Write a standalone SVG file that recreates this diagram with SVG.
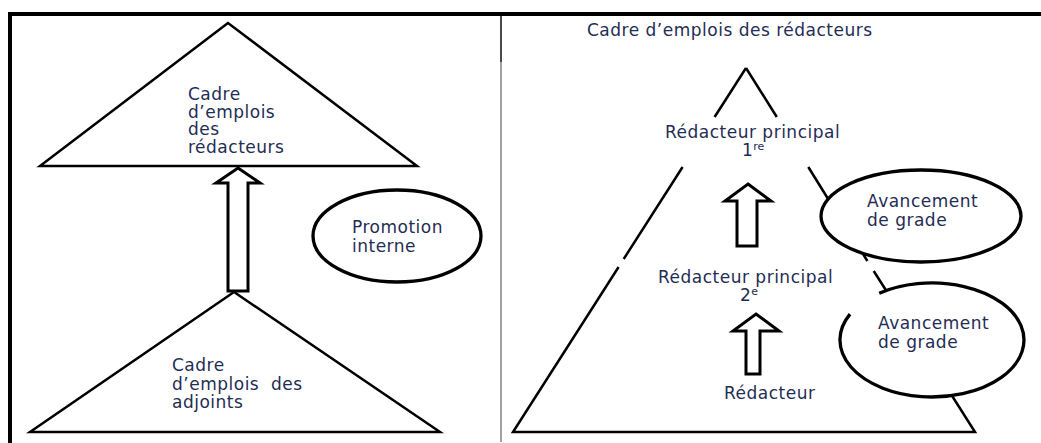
<svg xmlns="http://www.w3.org/2000/svg" width="1041" height="443" viewBox="0 0 1041 443">
<style>
.t{font-family:"DejaVu Sans",Verdana,sans-serif;font-size:17px;letter-spacing:0.5px;fill:#1f2d54}
.sup{font-size:11px;letter-spacing:0}
.tri{fill:#fff;stroke:#000;stroke-width:2.5;stroke-linejoin:miter}
.leg{fill:none;stroke:#000;stroke-width:2.5}
.ell{fill:#fff;stroke:#000;stroke-width:3.3}
.arr{fill:#fff;stroke:#000;stroke-width:3;stroke-linejoin:miter}
</style>
<rect width="1041" height="443" fill="#fff"/>
<g id="frame">
<line x1="8" y1="14" x2="1041" y2="14" stroke="#000" stroke-width="4"/>
<line x1="10" y1="12" x2="10" y2="443" stroke="#000" stroke-width="4"/>
<line x1="501" y1="16" x2="501" y2="62" stroke="#4a4a4a" stroke-width="2"/>
<line x1="501" y1="62" x2="501" y2="442" stroke="#a0a0a0" stroke-width="2"/>
</g>
<g id="left-top-triangle">
<polygon class="tri" points="228,23 40,166 417,166"/>
<text class="t" x="188" y="100">Cadre</text>
<text class="t" x="188" y="117.7">d’emplois</text>
<text class="t" x="188" y="135.3">des</text>
<text class="t" x="188" y="153">rédacteurs</text>
</g>
<g id="left-bottom-triangle">
<polygon class="tri" points="234,292 30,432 440,432"/>
<text class="t" x="172" y="371">Cadre</text>
<text class="t" x="172" y="389.5" xml:space="preserve">d’emplois  des</text>
<text class="t" x="172" y="408">adjoints</text>
</g>
<g id="promotion-interne">
<ellipse class="ell" cx="397" cy="236" rx="84" ry="46"/>
<text class="t" x="352" y="233">Promotion</text>
<text class="t" x="352" y="252">interne</text>
</g>
<g id="right-pyramid">
<path class="leg" d="M746,68 L714.6,117 M682.6,167 L623.7,259 M618.6,267 L513,432 L975,432 L942,380 M746,68 L776.8,117 M808.3,167 L830,202 M858.6,247 L867.4,261 M873.7,271 L889,295"/>
</g>
<g id="title-right">
<text class="t" x="587" y="36">Cadre d’emplois des rédacteurs</text>
</g>
<g id="redacteur-principal-1">
<text class="t" x="665" y="138">Rédacteur principal</text>
<text class="t" x="742" y="156">1<tspan class="sup" dy="-6">re</tspan></text>
</g>
<g id="redacteur-principal-2">
<text class="t" x="658" y="283">Rédacteur principal</text>
<text class="t" x="740" y="301">2<tspan class="sup" dy="-6">e</tspan></text>
</g>
<g id="redacteur">
<text class="t" x="724" y="399">Rédacteur</text>
</g>
<g id="avancement-1">
<ellipse class="ell" cx="921" cy="216" rx="100" ry="46"/>
<text class="t" x="867" y="207">Avancement</text>
<text class="t" x="867" y="226">de grade</text>
</g>
<g id="avancement-2">
<path class="ell" d="M879.2,293.3 A92,57 0 1 1 850,314.1"/>
<text class="t" x="878" y="329">Avancement</text>
<text class="t" x="878" y="348">de grade</text>
</g>
<g id="connectors">
<polygon class="arr" points="238,168 260,183 248,183 248,291 228,291 228,183 216,183"/>
<polygon class="arr" points="748,184 771,201 757,201 757,246 737,246 737,201 725,201"/>
<polygon class="arr" points="756,314 779,331 760,331 760,374 746,374 746,331 733,331"/>
</g>
</svg>
